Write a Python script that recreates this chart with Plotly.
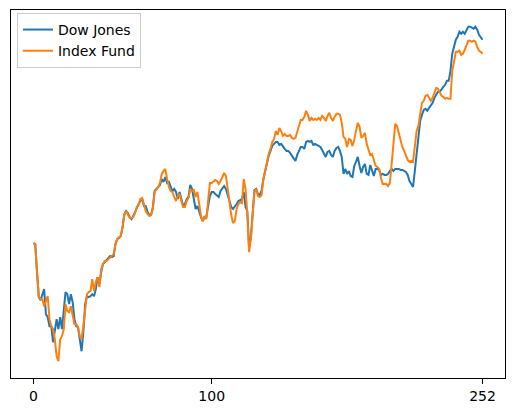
import plotly.graph_objects as go

# Cumulative return (%) per trading day
dow_jones = [
    0.0, -0.1, -2.9, -5.4, -5.7, -5.1, -4.6, -7.1, -7.4, -8.3,
    -8.3, -9.9, -8.6, -7.6, -8.6, -7.4, -8.6, -6.9, -4.9, -5.1,
    -6.1, -5.1, -5.9, -7.6, -8.3, -8.4, -9.9, -10.8, -8.9, -6.1,
    -5.3, -5.4, -5.3, -5.1, -5.3, -4.6, -3.4, -4.1, -2.9, -2.1,
    -1.9, -1.7, -1.5, -1.3, -1.4, -1.3, -0.1, 0.4, 0.5, 0.7,
    1.6, 2.9, 3.2, 3.0, 2.6, 2.4, 2.7, 3.1, 3.6, 3.9,
    4.2, 4.4, 3.7, 3.7, 3.1, 2.8, 2.8, 3.6, 5.2, 5.4,
    5.5, 5.8, 6.4, 6.1, 6.6, 6.0, 6.1, 5.7, 5.2, 5.4,
    5.1, 4.4, 5.1, 4.4, 3.7, 3.9, 4.4, 4.6, 5.8, 5.4,
    4.4, 3.4, 3.7, 3.1, 2.6, 2.2, 2.6, 2.6, 3.7, 4.7,
    5.1, 5.1, 4.9, 4.7, 4.6, 5.2, 5.5, 5.7, 5.4, 4.8,
    4.4, 3.6, 3.4, 3.6, 3.9, 4.2, 4.3, 4.4, 5.1, 3.6,
    3.2, -0.4, 0.6, 3.2, 5.3, 5.4, 4.9, 4.8, 5.2, 6.4,
    7.2, 8.1, 8.7, 9.2, 9.7, 9.9, 10.1, 10.1, 9.8, 9.9,
    9.6, 9.4, 9.2, 9.2, 9.0, 8.7, 8.4, 8.2, 8.8, 9.3,
    9.6, 9.6, 9.4, 10.1, 10.2, 10.1, 10.2, 9.8, 9.9, 9.8,
    9.7, 9.6, 9.3, 9.0, 8.6, 9.1, 9.2, 8.8, 8.6, 9.2,
    9.5, 9.6, 9.2, 8.6, 6.9, 7.4, 6.9, 7.2, 6.7, 6.6,
    7.7, 8.1, 8.6, 7.7, 7.0, 7.6, 7.9, 6.9, 6.8, 7.8,
    7.2, 6.7, 7.4, 7.4, 7.3, 6.8, 6.9, 6.8, 6.8, 6.9,
    7.2, 7.4, 7.2, 7.4, 7.4, 7.4, 7.3, 7.3, 7.2, 7.1,
    6.8, 6.2, 5.9, 5.6, 7.2, 9.1, 10.9, 12.2, 12.8, 13.3,
    13.4, 13.2, 13.5, 13.7, 14.0, 14.5, 14.8, 15.1, 15.1, 15.4,
    15.6, 15.8, 16.2, 16.2, 17.2, 18.9, 19.7, 20.3, 20.6, 21.1,
    20.9, 21.1, 20.9, 21.2, 21.6, 21.6, 21.5, 21.4, 21.6, 21.3,
    20.8, 20.5, 20.3,
]

index_fund = [
    0.0, -0.1, -2.9, -5.4, -5.6, -5.6, -6.3, -5.8, -5.3, -7.6,
    -8.3, -8.6, -9.6, -11.3, -11.8, -9.6, -9.3, -8.6, -6.1, -6.8,
    -6.9, -6.3, -7.3, -8.1, -8.1, -8.4, -9.3, -9.6, -8.3, -6.3,
    -5.1, -4.9, -4.8, -3.6, -4.8, -3.9, -3.4, -4.4, -2.6, -2.1,
    -1.8, -1.8, -1.6, -1.5, -1.2, -1.1, -0.1, 0.4, 0.6, 0.7,
    1.6, 2.8, 3.2, 2.9, 2.5, 2.5, 2.6, 3.0, 3.6, 3.8,
    4.4, 4.5, 3.7, 3.2, 2.9, 2.7, 2.8, 3.4, 5.1, 5.3,
    5.6, 6.0, 6.9, 7.2, 7.4, 6.4, 5.6, 5.2, 5.1, 4.6,
    4.2, 4.7, 4.9, 4.2, 3.6, 3.6, 4.2, 4.5, 5.4, 5.2,
    5.3, 4.6, 5.1, 3.9, 2.7, 2.2, 2.7, 2.4, 4.4, 6.0,
    6.0, 6.2, 6.3, 6.2, 5.9, 6.2, 6.6, 7.0, 6.7, 5.4,
    3.8, 2.8, 2.0, 2.2, 3.4, 3.9, 4.1, 4.0, 6.4, 5.4,
    2.9, -0.9, 0.4, 3.2, 5.1, 5.4, 4.7, 4.6, 4.8, 6.3,
    7.2, 8.2, 8.9, 9.4, 10.1, 10.4, 11.2, 10.8, 11.5, 11.2,
    10.7, 10.9, 10.7, 10.7, 10.8, 10.5, 10.4, 10.5, 11.1, 11.6,
    12.3, 12.3, 12.6, 13.2, 12.8, 12.2, 12.5, 12.3, 12.4, 12.3,
    12.5, 12.3, 12.7, 12.5, 12.2, 12.7, 13.0, 12.5, 12.2, 12.6,
    12.9, 12.9, 12.8, 12.0, 10.6, 10.4, 9.6, 10.4, 10.3, 9.7,
    10.3, 11.2, 12.0, 11.6, 10.5, 10.7, 11.0, 9.9, 9.4, 8.8,
    8.9, 8.3, 7.7, 7.6, 7.4, 6.5, 5.9, 5.9, 5.9, 5.7,
    6.0, 7.9, 10.4, 11.9, 11.7, 10.9, 10.1, 9.6, 9.2, 8.8,
    8.3, 8.1, 8.2, 8.1, 9.4, 11.2, 11.7, 13.0, 14.0, 14.2,
    14.7, 14.8, 14.5, 14.2, 14.5, 15.1, 15.5, 15.4, 15.0, 14.7,
    14.6, 14.4, 14.5, 14.4, 14.4, 17.2, 18.1, 19.1, 19.1, 19.2,
    18.8, 18.9, 19.3, 19.8, 20.2, 20.2, 20.1, 20.2, 20.1, 19.6,
    19.2, 19.1, 18.9,
]

days = list(range(len(dow_jones)))
x_ticks = [0, 100, 252]

MPL_BLUE = '#1f77b4'
MPL_ORANGE = '#ff7f0e'
FONT = 'DejaVu Sans'

fig = go.Figure()

fig.add_trace(go.Scatter(
    x=days, y=dow_jones, mode='lines', name='Dow Jones',
    line=dict(color=MPL_BLUE, width=2),
))
fig.add_trace(go.Scatter(
    x=days, y=index_fund, mode='lines', name='Index Fund',
    line=dict(color=MPL_ORANGE, width=2),
))

# matplotlib-like 5% margins
lo = min(min(dow_jones), min(index_fund))
hi = max(max(dow_jones), max(index_fund))
pad_y = (hi - lo) * 0.05
pad_x = (days[-1] - days[0]) * 0.05

fig.update_layout(
    width=515,
    height=413,
    margin=dict(l=11, r=9, t=9, b=34),
    paper_bgcolor='white',
    plot_bgcolor='white',
    font=dict(family=FONT, size=14, color='black'),
    showlegend=True,
    legend=dict(
        x=0.012, y=0.992, xanchor='left', yanchor='top',
        bgcolor='rgba(255,255,255,0.8)',
        bordercolor='#cccccc', borderwidth=1,
        font=dict(family=FONT, size=14, color='black'),
        itemwidth=30,
        tracegroupgap=2,
    ),
    xaxis=dict(
        range=[days[0] - pad_x, days[-1] + pad_x],
        tickmode='array', tickvals=x_ticks,
        ticks='outside', ticklen=5, tickwidth=1, tickcolor='black',
        showgrid=False, zeroline=False,
        showline=True, linecolor='black', linewidth=1, mirror=True,
        tickfont=dict(family=FONT, size=14, color='black'),
    ),
    yaxis=dict(
        range=[lo - pad_y, hi + pad_y],
        showticklabels=False, ticks='',
        showgrid=False, zeroline=False,
        showline=True, linecolor='black', linewidth=1, mirror=True,
    ),
)

# drop the default 8px page margin so the figure sits at the window corner
fig.write_html(
    "out.html",
    config={'displayModeBar': False},
    post_script="document.body.style.margin='0';",
)
